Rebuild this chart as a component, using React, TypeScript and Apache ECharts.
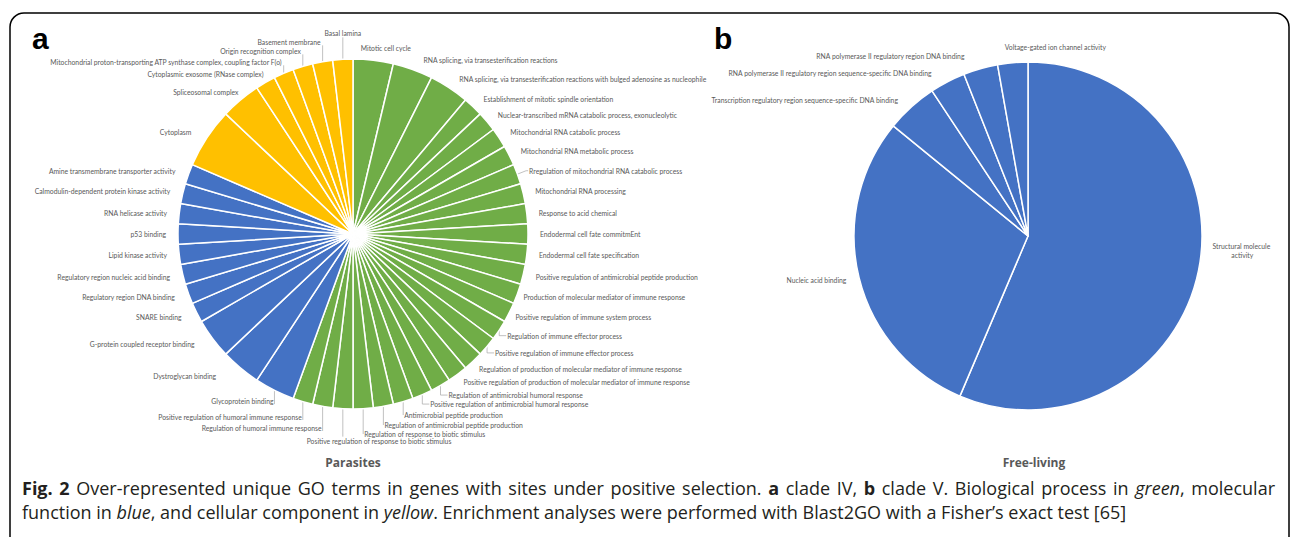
import React, { useEffect, useRef } from "react";
import * as echarts from "echarts";

const GREEN = "#70AD47";
const BLUE = "#4472C4";
const YELLOW = "#FFC000";
const LABEL_COLOR = "#595959";

// Panel a: Parasites (clade IV)
const bioProcessTerms = [
  "Mitotic cell cycle",
  "RNA splicing, via transesterification reactions",
  "RNA splicing, via transesterification reactions with bulged adenosine as nucleophile",
  "Establishment of mitotic spindle orientation",
  "Nuclear-transcribed mRNA catabolic process, exonucleolytic",
  "Mitochondrial RNA catabolic process",
  "Mitochondrial RNA metabolic process",
  "Rregulation of mitochondrial RNA catabolic process",
  "Mitochondrial RNA processing",
  "Response to acid chemical",
  "Endodermal cell fate commitmEnt",
  "Endodermal cell fate specification",
  "Positive regulation of antimicrobial peptide production",
  "Production of molecular mediator of immune response",
  "Positive regulation of immune system process",
  "Regulation of immune effector process",
  "Positive regulation of immune effector process",
  "Regulation of production of molecular mediator of immune response",
  "Positive regulation of production of molecular mediator of immune response",
  "Regulation of antimicrobial humoral response",
  "Positive regulation of antimicrobial humoral response",
  "Antimicrobial peptide production",
  "Regulation of antimicrobial peptide production",
  "Regulation of response to biotic stimulus",
  "Positive regulation of response to biotic stimulus",
  "Regulation of humoral immune response",
  "Positive regulation of humoral immune response",
];
const bioProcessValues = [2, 2, 2, 1, 1, 1, 1, 1, 1, 1, 1, 1, 1, 1, 1, 1, 1, 1, 1, 1, 1, 1, 1, 1, 1, 1, 1];

const molFunctionTerms = [
  "Glycoprotein binding",
  "Dystroglycan binding",
  "G-protein coupled receptor binding",
  "SNARE binding",
  "Regulatory region DNA binding",
  "Regulatory region nucleic acid binding",
  "Lipid kinase activity",
  "p53 binding",
  "RNA helicase activity",
  "Calmodulin-dependent protein kinase activity",
  "Amine transmembrane transporter activity",
];
const molFunctionValues = [2, 2, 2, 1, 1, 1, 1, 1, 1, 1, 1];

const cellComponentTerms = [
  "Cytoplasm",
  "Spliceosomal complex",
  "Cytoplasmic exosome (RNase complex)",
  "Mitochondrial proton-transporting ATP synthase complex, coupling factor F(o)",
  "Origin recognition complex",
  "Basement membrane",
  "Basal lamina",
];
const cellComponentValues = [3, 2, 1, 1, 1, 1, 1];

// Panel b: Free-living (clade V)
const freeLivingTerms = [
  "Structural molecule activity",
  "Nucleic acid binding",
  "Transcription regulatory region sequence-specific DNA binding",
  "RNA polymerase II regulatory region sequence-specific DNA binding",
  "RNA polymerase II regulatory region DNA binding",
  "Voltage-gated ion channel activity",
];
const freeLivingValues = [56.4, 29.5, 4.8, 3.3, 3.2, 2.8];

const panelTitles = ["Parasites", "Free-living"];
const panelLetters = ["a", "b"];

const captionLine1 =
  "{b|Fig.} {b|2} Over-represented unique GO terms in genes with sites under positive selection. {b|a} clade IV, {b|b} clade V. Biological process in {i|green}, molecular";
const captionLine2 =
  "function in {i|blue}, and cellular component in {i|yellow}. Enrichment analyses were performed with Blast2GO with a Fisher\u2019s exact test [65]";

// ---- label styling (leader lines / placement rules, per slice index of panel a) ----
const leaderMode: Record<number, string> = {
  0: "topQ", 13: "near", 14: "near", 15: "elbow", 16: "elbow", 17: "near", 18: "near",
  19: "elbow", 20: "elbow", 21: "drop", 22: "drop", 23: "drop", 24: "dropQ", 25: "drop",
  26: "drop", 27: "drop", 39: "top", 40: "top", 41: "top", 42: "top", 43: "top", 44: "topC",
};
const leaderVisible = [7, 15, 16, 19, 20, 21, 22, 23, 24, 25, 26, 27, 41, 42, 43, 44];
const leaderLength: Record<number, number> = {
  0: 12, 19: 11, 20: 8, 21: 14, 22: 19, 23: 24, 24: 32, 25: 22, 26: 16, 27: 12,
  41: 12, 42: 17, 43: 21, 44: 26,
};

const A_CENTER = [353, 234];
const A_RADIUS = 175;
const B_CENTER = [1028, 236];
const B_RADIUS = 174;
const FONT_CAPTION = 18;

function anchorOf(values: number[], i: number, c: number[], r: number) {
  const total = values.reduce((s, v) => s + v, 0);
  let cum = 0;
  for (let j = 0; j < i; j++) cum += values[j];
  const a = ((cum + values[i] / 2) / total) * Math.PI * 2;
  return [c[0] + r * Math.sin(a), c[1] - r * Math.cos(a)];
}

export default function App() {
  const ref = useRef<HTMLDivElement>(null);
  useEffect(() => {
    if (!ref.current) return;
    const chart = echarts.init(ref.current, undefined, { renderer: "svg" });
    const labelBase = {
      show: true,
      position: "outside",
      fontSize: 6.8,
      color: LABEL_COLOR,
      fontFamily: "Lato",
      distanceToLabelLine: 1,
    };
    const lineBase = {
      show: true,
      length: 10,
      length2: 2,
      lineStyle: { color: "#a6a6a6", width: 0.7 },
    };
    const parasiteValues = [...bioProcessValues, ...molFunctionValues, ...cellComponentValues];
    const parasiteTerms = [...bioProcessTerms, ...molFunctionTerms, ...cellComponentTerms];
    const parasiteColors = [
      ...bioProcessTerms.map(() => GREEN),
      ...molFunctionTerms.map(() => BLUE),
      ...cellComponentTerms.map(() => YELLOW),
    ];
    const parasiteData = parasiteTerms.map((name, i) => ({
      name,
      value: parasiteValues[i],
      itemStyle: { color: parasiteColors[i] },
      labelLine: { show: leaderVisible.includes(i), length: leaderLength[i] ?? 10 },
    }));
    const freeLengths = [10, 10, 10, 10, 20, 16];
    const freeData: any[] = freeLivingTerms.map((name, i) => ({
      name,
      value: freeLivingValues[i],
      itemStyle: { color: BLUE },
      labelLine: { length: freeLengths[i] },
    }));
    freeData[0].label = { width: 62, overflow: "break", lineHeight: 9 };

    const parasiteLayout = (p: any) => {
      const i = p.dataIndex;
      const mode = leaderMode[i];
      if (!mode) return {};
      const p0 = anchorOf(parasiteValues, i, A_CENTER, A_RADIUS);
      const lr = p.labelRect;
      const cy = lr.y + lr.height / 2;
      const w = lr.width;
      const res: any = { y: cy, verticalAlign: "middle" };
      if (mode === "near") {
        res.x = p0[0] + 6;
        res.align = "left";
      } else if (mode === "elbow") {
        res.x = p0[0] + 8;
        res.align = "left";
        res.labelLinePoints = [p0, [p0[0], cy], [p0[0] + 7, cy]];
      } else if (mode === "drop") {
        const right = p0[0] >= A_CENTER[0];
        res.x = right ? p0[0] + 1 : p0[0] - 1;
        res.align = right ? "left" : "right";
        res.labelLinePoints = [p0, [p0[0], right ? cy : cy + 3]];
      } else if (mode === "dropQ") {
        res.x = p0[0] + w / 4;
        res.align = "center";
        res.labelLinePoints = [p0, [p0[0], cy - 4]];
      } else if (mode === "top") {
        res.x = p0[0] - 2;
        res.align = "right";
        res.labelLinePoints = [p0, [p0[0], cy + 3]];
      } else if (mode === "topC") {
        res.x = p0[0];
        res.align = "center";
        res.labelLinePoints = [p0, [p0[0], cy + 4]];
      } else if (mode === "topQ") {
        res.x = p0[0] + w / 4;
        res.align = "center";
      }
      return res;
    };
    const freeLayout = (p: any) => {
      const i = p.dataIndex;
      if (i === 0) return { dy: -22, align: "center", dx: p.labelRect.width / 2 };
      if (i === 5) {
        const p0 = anchorOf(freeLivingValues, i, B_CENTER, B_RADIUS);
        return { x: p0[0] - 8, align: "left" };
      }
      return {};
    };

    const rich = {
      b: { fontWeight: "bold", fontFamily: "Open Sans", fontSize: FONT_CAPTION, color: "#231f20" },
      i: { fontStyle: "italic", fontFamily: "Open Sans", fontSize: FONT_CAPTION, color: "#231f20" },
    };
    const captionStyle = (text: string) => ({
      text,
      rich,
      fontFamily: "Open Sans",
      fontSize: FONT_CAPTION,
      fill: "#231f20",
      verticalAlign: "middle",
    });
    // justified first caption line: measure the words and spread them over the line width
    const words = captionLine1.split(" ");
    const widths = words.map(
      (wd) => new echarts.graphic.Text({ style: captionStyle(wd) as any }).getBoundingRect().width
    );
    const lineLeft = 22;
    const lineRight = 1275;
    const gap = (lineRight - lineLeft - widths.reduce((s, v) => s + v, 0)) / (words.length - 1);
    let cx = lineLeft;
    const line1Elements = words.map((wd, k) => {
      const el = { type: "text", x: cx, y: 488, style: captionStyle(wd) };
      cx += widths[k] + gap;
      return el;
    });

    chart.setOption({
      animation: false,
      backgroundColor: "#fff",
      graphic: [
        {
          type: "rect",
          shape: { x: 10, y: 13, width: 1279, height: 545, r: 14 },
          style: { fill: "none", stroke: "#000", lineWidth: 1.5 },
          silent: true,
        },
        {
          type: "text",
          x: 32,
          y: 53,
          style: { text: panelLetters[0], font: "bold 30px 'Liberation Sans'", fill: "#000", textVerticalAlign: "bottom" },
        },
        {
          type: "text",
          x: 714,
          y: 53,
          style: { text: panelLetters[1], font: "bold 30px 'Liberation Sans'", fill: "#000", textVerticalAlign: "bottom" },
        },
        {
          type: "text",
          x: 353,
          y: 462,
          style: { text: panelTitles[0], font: "bold 12px 'Open Sans'", fill: "#595959", align: "center", verticalAlign: "middle" },
        },
        {
          type: "text",
          x: 1034,
          y: 462,
          style: { text: panelTitles[1], font: "bold 12px 'Open Sans'", fill: "#595959", align: "center", verticalAlign: "middle" },
        },
        ...line1Elements,
        {
          type: "text",
          x: 22,
          y: 512,
          style: captionStyle(captionLine2),
        },
      ],
      series: [
        {
          type: "pie",
          center: A_CENTER,
          radius: A_RADIUS,
          startAngle: 90,
          clockwise: true,
          avoidLabelOverlap: true,
          minShowLabelAngle: 0,
          itemStyle: { borderColor: "#fff", borderWidth: 1.5 },
          label: labelBase,
          labelLine: lineBase,
          labelLayout: parasiteLayout,
          emphasis: { disabled: true },
          data: parasiteData,
        },
        {
          type: "pie",
          center: B_CENTER,
          radius: B_RADIUS,
          startAngle: 90,
          clockwise: true,
          avoidLabelOverlap: true,
          minShowLabelAngle: 0,
          itemStyle: { borderColor: "#fff", borderWidth: 1.5 },
          label: labelBase,
          labelLine: { ...lineBase, show: false },
          labelLayout: freeLayout,
          emphasis: { disabled: true },
          data: freeData,
        },
      ],
    });
    return () => chart.dispose();
  }, []);
  return (
    <div
      ref={ref}
      style={{ position: "absolute", left: 0, top: 0, width: 1292, height: 537 }}
    />
  );
}
